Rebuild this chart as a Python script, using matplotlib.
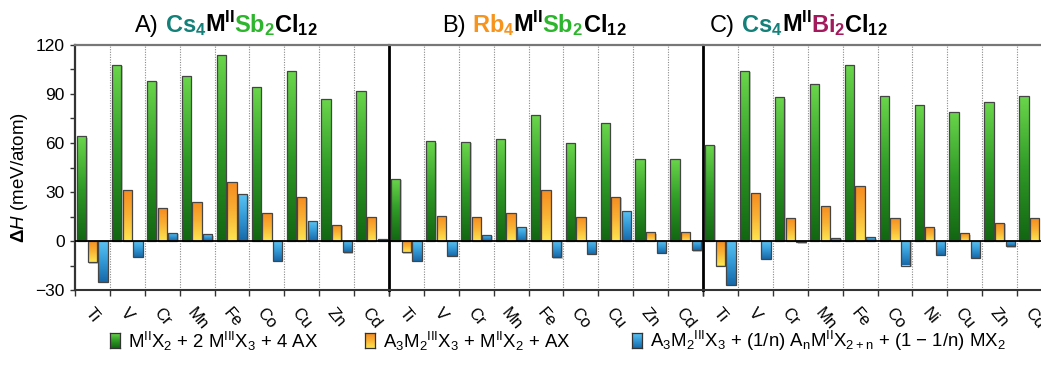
import numpy as np
import matplotlib
matplotlib.use('Agg')
from matplotlib import pyplot as plt
from matplotlib.colors import LinearSegmentedColormap
from matplotlib.patches import Rectangle
from matplotlib.transforms import offset_copy

plt.rcParams['font.family'] = ['Liberation Sans', 'DejaVu Sans']
plt.rcParams['mathtext.fontset'] = 'custom'
plt.rcParams['mathtext.rm'] = 'Liberation Sans'
plt.rcParams['mathtext.it'] = 'Liberation Sans:italic'
plt.rcParams['mathtext.bf'] = 'Liberation Sans:bold'

# ---- data (meV/atom) ----
metals_a = ['Ti', 'V', 'Cr', 'Mn', 'Fe', 'Co', 'Cu', 'Zn', 'Cd']
metals_b = ['Ti', 'V', 'Cr', 'Mn', 'Fe', 'Co', 'Cu', 'Zn', 'Cd']
metals_c = ['Ti', 'V', 'Cr', 'Mn', 'Fe', 'Co', 'Ni', 'Cu', 'Zn', 'Cd']

binary_a = [64, 108, 98, 101, 114, 94, 104, 87, 92]
ternary_a = [-13, 31, 20, 24, 36, 17, 27, 10, 15]
mixed_a = [-25, -9.5, 5, 4, 28.5, -12, 12, -7, 1]

binary_b = [38, 61, 60.5, 62.5, 77, 60, 72, 50.5, 50.5]
ternary_b = [-7, 15.5, 15, 17, 31.5, 14.7, 27, 5.3, 5.3]
mixed_b = [-12, -9, 3.7, 8.4, -10, -8, 18.6, -7.3, -5.7]

binary_c = [59, 104, 88, 96, 108, 88.5, 83, 79, 85, 88.5]
ternary_c = [-15, 29.5, 14, 21.5, 33.5, 14.3, 8.4, 4.7, 11, 14]
mixed_c = [-27, -11, -0.8, 1.8, 2.2, -15, -8.6, -10.2, -3.3, np.nan]

legend_labels = [
    r'M$^{\rm II}$X$_2$ + 2 M$^{\rm III}$X$_3$ + 4 AX',
    r'A$_3$M$_2$$^{\rm III}$X$_3$ + M$^{\rm II}$X$_2$ + AX',
    r'A$_3$M$_2$$^{\rm III}$X$_3$ + (1/n) A$_{\rm n}$M$^{\rm II}$X$_{\rm 2+n}$ + (1 − 1/n) MX$_2$',
]

green = LinearSegmentedColormap.from_list('g', ['#126612', '#2f9a26', '#6ad64b'])
orange = LinearSegmentedColormap.from_list('o', ['#fde650', '#f9b234', '#f68b1f'])
blue = LinearSegmentedColormap.from_list('b', ['#1768a8', '#3399d6', '#5cc4f4'])
cmaps = [green, orange, blue]
offsets = [-0.305, 0.0, 0.305]
bw = 0.265

W, H = 1041, 377
fig = plt.figure(figsize=(W / 100, H / 100), dpi=100)
grad = np.linspace(0, 1, 128).reshape(-1, 1)


def px_axes(l, t, r, b):
    return fig.add_axes([l / W, 1 - b / H, (r - l) / W, (b - t) / H])


def gradient_bar(ax, x, h, cmap):
    if not np.isfinite(h):
        return
    y0, y1 = min(0, h), max(0, h)
    sh = offset_copy(ax.transData, fig=fig, x=1.3, y=-1.3, units='dots')
    ax.add_patch(Rectangle((x - bw / 2, y0), bw, y1 - y0, transform=sh,
                           facecolor='#c4c4c4', edgecolor='none', zorder=2))
    rect = ax.bar(x, h, bw, facecolor='none', edgecolor='#454545', lw=0.9, zorder=3)[0]
    img = ax.imshow(grad, extent=(x - bw / 2, x + bw / 2, y0, y1), origin='lower',
                    aspect='auto', cmap=cmap, zorder=2.5, interpolation='bilinear')
    img.set_clip_path(rect)


panels = [
    ((75, 389), metals_a, [binary_a, ternary_a, mixed_a]),
    ((389, 703), metals_b, [binary_b, ternary_b, mixed_b]),
    ((703, 1052), metals_c, [binary_c, ternary_c, mixed_c]),
]

axes = []
for i, ((l, r), metals, series) in enumerate(panels):
    ax = px_axes(l, 45, r, 290)
    axes.append(ax)
    n = len(metals)
    x = np.arange(n)
    for vals, off, cm in zip(series, offsets, cmaps):
        for xi, v in zip(x, vals):
            gradient_bar(ax, xi + off, v, cm)
    for b in np.arange(0.5, n - 0.5):
        ax.axvline(b, color='#8a8a8a', lw=0.8, ls=(0, (1, 1.3)), zorder=1)
    ax.axhline(0, color='black', lw=1.3, zorder=4)
    ax.set_xlim(-0.5, n - 0.5)
    ax.set_ylim(-30, 120)
    ax.set_xticks(x)
    ax.set_xticklabels(metals, rotation=-50, ha='center', va='top', fontsize=12)
    ax.set_xticks(np.arange(-0.5, n), minor=True)
    ax.tick_params(axis='x', which='major', length=0, pad=11)
    ax.tick_params(axis='x', which='minor', length=4, width=1, color='#333333', direction='out')
    ax.spines['top'].set_color('#777777')
    ax.spines['top'].set_linewidth(1.6)
    ax.spines['bottom'].set_color('#333333')
    ax.spines['bottom'].set_linewidth(1.5)
    ax.spines['right'].set_visible(False)
    if i == 0:
        ax.spines['left'].set_color('#333333')
        ax.spines['left'].set_linewidth(1.6)
        ax.set_yticks([-30, 0, 30, 60, 90, 120])
        ax.set_yticks(np.arange(-30, 121, 15), minor=True)
        ax.tick_params(axis='y', which='both', length=3.5, width=1, color='#333333',
                       labelsize=12.5, direction='out', pad=4)
    else:
        ax.spines['left'].set_color('black')
        ax.spines['left'].set_linewidth(2.0)
        ax.tick_params(axis='y', which='both', left=False, labelleft=False)

fig.text(20 / W, 1 - 177 / H, r'$\mathbf{\Delta}\mathit{H}$ (meV/atom)', rotation=90,
         ha='center', va='center', fontsize=13.5)

# ---- multi-coloured titles ----
renderer = fig.canvas.get_renderer()
teal, sbgreen, rborange, bimag = '#13807a', '#2db52d', '#f7941d', '#a3195b'
titles = [
    (135, [('A)', 'black', 'normal', 6), (r'$\mathbf{Cs}_\mathbf{4}$', teal, 'bold', -1),
           (r'$\mathbf{M}^\mathbf{II}$', 'black', 'bold', -1), (r'$\mathbf{Sb}_\mathbf{2}$', sbgreen, 'bold', -1),
           (r'$\mathbf{Cl}_\mathbf{12}$', 'black', 'bold', 0)]),
    (442, [('B)', 'black', 'normal', 6), (r'$\mathbf{Rb}_\mathbf{4}$', rborange, 'bold', -1),
           (r'$\mathbf{M}^\mathbf{II}$', 'black', 'bold', -1), (r'$\mathbf{Sb}_\mathbf{2}$', sbgreen, 'bold', -1),
           (r'$\mathbf{Cl}_\mathbf{12}$', 'black', 'bold', 0)]),
    (710, [('C)', 'black', 'normal', 6), (r'$\mathbf{Cs}_\mathbf{4}$', teal, 'bold', -1),
           (r'$\mathbf{M}^\mathbf{II}$', 'black', 'bold', -1), (r'$\mathbf{Bi}_\mathbf{2}$', bimag, 'bold', -1),
           (r'$\mathbf{Cl}_\mathbf{12}$', 'black', 'bold', 0)]),
]
for x0, pieces in titles:
    xp = x0
    for txt, col, wt, gap in pieces:
        t = fig.text(xp / W, 1 - 32 / H, txt, color=col, fontsize=17, fontweight=wt,
                     ha='left', va='baseline')
        xp += t.get_window_extent(renderer).width + gap

# ---- legend ----
legend_x = [(110, 128), (365, 383), (632, 650)]
for (sx, tx), cm, lab in zip(legend_x, cmaps, legend_labels):
    sax = px_axes(sx, 333, sx + 10, 348)
    sax.imshow(grad, origin='lower', aspect='auto', cmap=cm, extent=(0, 1, 0, 1))
    sax.set_xticks([])
    sax.set_yticks([])
    for s in sax.spines.values():
        s.set_color('#333333')
        s.set_linewidth(0.9)
    fig.text(tx / W, 1 - 341 / H, lab, ha='left', va='center', fontsize=13.4)

fig.savefig('out.png', dpi=100)
